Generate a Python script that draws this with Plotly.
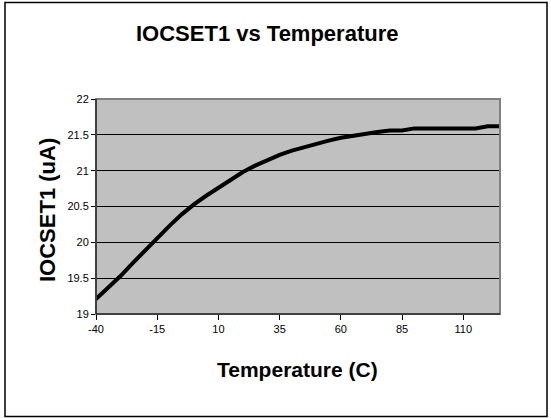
import plotly.graph_objects as go

temps = [-40, -35, -30, -25, -20, -15, -10, -5, 0, 5, 10, 15, 20, 25, 30, 35, 40, 45,
         50, 55, 60, 65, 70, 75, 80, 85, 90, 95, 100, 105, 110, 115, 120, 125]
iocset1 = [19.21, 19.37, 19.53, 19.71, 19.89, 20.07, 20.23, 20.39, 20.53, 20.65, 20.76,
           20.87, 20.98, 21.07, 21.15, 21.22, 21.28, 21.33, 21.38, 21.42, 21.46, 21.49,
           21.51, 21.54, 21.56, 21.56, 21.59, 21.59, 21.59, 21.59, 21.59, 21.59, 21.62, 21.62]
x_ticks = [-40, -15, 10, 35, 60, 85, 110]
y_ticks = [19, 19.5, 20, 20.5, 21, 21.5, 22]

FONT = "Liberation Sans, Arial, sans-serif"

fig = go.Figure()
fig.add_trace(go.Scatter(x=temps, y=iocset1, mode="lines",
                         line=dict(color="#000000", width=4), hoverinfo="skip"))

W, H = 551, 418
L, R, T, B = 96, 51, 99, 104
pw, ph = W - L - R, H - T - B

def px(x):
    return (x - L) / pw

def py(y):
    return (H - B - y) / ph

fig.update_layout(
    width=W, height=H,
    margin=dict(l=L, r=R, t=T, b=B),
    paper_bgcolor="#FFFFFF",
    plot_bgcolor="#C0C0C0",
    showlegend=False,
    font=dict(family=FONT, color="#000000", size=11),
    xaxis=dict(range=[-40, 125], tickvals=x_ticks, ticktext=[str(v) for v in x_ticks],
               showgrid=False, zeroline=False, showline=True, linecolor="#000000",
               linewidth=1, ticks="outside", ticklen=5, tickcolor="#000000",
               tickfont=dict(size=11, family=FONT)),
    yaxis=dict(range=[19, 22], tickvals=y_ticks, ticktext=[f"{v:g}" for v in y_ticks],
               showgrid=True, gridcolor="#000000", gridwidth=1, zeroline=False,
               showline=True, linecolor="#000000", linewidth=1, ticks="outside",
               ticklen=4, tickcolor="#000000", tickfont=dict(size=11, family=FONT)),
    shapes=[
        dict(type="rect", xref="paper", yref="paper", x0=0, x1=1, y0=0, y1=1,
             line=dict(color="#808080", width=2), layer="above"),
        dict(type="line", xref="paper", yref="paper", x0=0, x1=1, y0=0, y1=0,
             line=dict(color="#000000", width=1), layer="above"),
        dict(type="line", xref="paper", yref="paper", x0=0, x1=0, y0=0, y1=1,
             line=dict(color="#000000", width=1), layer="above"),
        dict(type="rect", xref="paper", yref="paper",
             x0=px(5), x1=px(547), y0=py(416.5), y1=py(2.5),
             line=dict(color="#000000", width=1.5), layer="above"),
    ],
    annotations=[
        dict(text="<b>IOCSET1 vs Temperature</b>", xref="paper", yref="paper",
             x=px(266.5), y=py(33), xanchor="center", yanchor="middle",
             showarrow=False, font=dict(size=22, family=FONT)),
        dict(text="<b>IOCSET1 (uA)</b>", xref="paper", yref="paper",
             x=px(47), y=py(210), xanchor="center", yanchor="middle", textangle=-90,
             showarrow=False, font=dict(size=22, family=FONT)),
        dict(text="<b>Temperature (C)</b>", xref="paper", yref="paper",
             x=px(297.5), y=py(369), xanchor="center", yanchor="middle",
             showarrow=False, font=dict(size=21, family=FONT)),
    ],
)

fig.write_html("out.html", config={"displayModeBar": False},
               post_script="document.body.style.margin='0';document.body.style.overflow='hidden';")
